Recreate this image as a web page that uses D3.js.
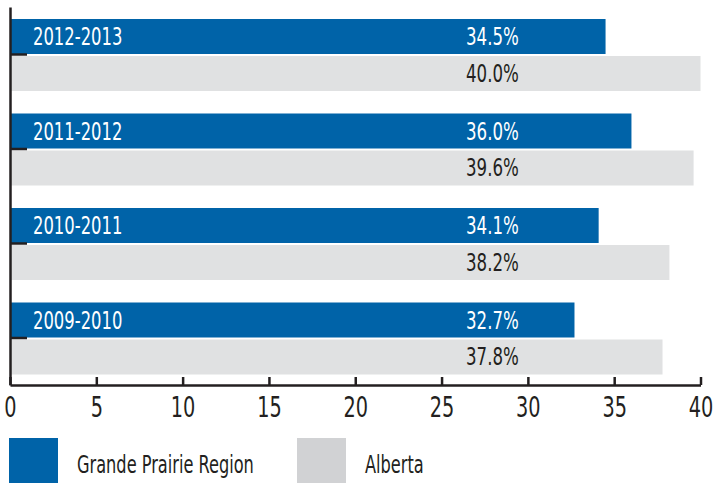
<!DOCTYPE html>
<html lang="en">
<head>
<meta charset="utf-8">
<title>Grande Prairie Region vs Alberta</title>
<script src="https://cdn.jsdelivr.net/npm/d3@7"></script>
<style>
  body { margin: 0; background: #fff; }
  svg { display: block; font-family: "DejaVu Sans Condensed", "Liberation Sans Narrow", sans-serif; }
</style>
</head>
<body>
<script>
// data
var years = ["2012-2013", "2011-2012", "2010-2011", "2009-2010"];
var series = ["Grande Prairie Region", "Alberta"];
var gpRegion = [34.5, 36.0, 34.1, 32.7];
var alberta = [40.0, 39.6, 38.2, 37.8];
var xTicks = [0, 5, 10, 15, 20, 25, 30, 35, 40];

var w = 713, h = 483;
var colors = {"Grande Prairie Region": "#0063a8", "Alberta": "#e0e1e2"};
var legendColors = {"Grande Prairie Region": "#0063a8", "Alberta": "#d1d2d4"};
var dark = "#231f20";

var svg = d3.select("body").append("svg")
  .attr("width", w)
  .attr("height", h);

var x = d3.scaleLinear().domain([0, 40]).range([10, 700.5]);
var y = d3.scaleBand().domain(years).range([7, 385]);
var yInner = d3.scaleBand().domain(series).range([12, 84]).paddingInner(0.054);

var rows = [];
years.forEach(function(yr, i) {
  rows.push({year: yr, s: series[0], v: gpRegion[i]});
  rows.push({year: yr, s: series[1], v: alberta[i]});
});

svg.selectAll("rect.bar")
  .data(rows)
  .enter().append("rect")
  .attr("class", "bar")
  .attr("x", x(0))
  .attr("y", function(d) { return y(d.year) + yInner(d.s); })
  .attr("width", function(d) { return x(d.v) - x(0); })
  .attr("height", yInner.bandwidth())
  .attr("fill", function(d) { return colors[d.s]; });

// condensed look: squeeze text horizontally
function place(px, py, sx) {
  return "translate(" + px + "," + py + ") scale(" + sx + ",1)";
}

// value labels
svg.selectAll("text.val")
  .data(rows)
  .enter().append("text")
  .attr("class", "val")
  .attr("transform", function(d) {
    return place(466, y(d.year) + yInner(d.s) + yInner.bandwidth() / 2 + 8.5, 0.77);
  })
  .attr("font-size", 24)
  .attr("fill", function(d) { return d.s == series[0] ? "#fff" : dark; })
  .text(function(d) { return d.v.toFixed(1) + "%"; });

// year labels inside the blue bars
svg.selectAll("text.yr")
  .data(years)
  .enter().append("text")
  .attr("class", "yr")
  .attr("transform", function(d) {
    return place(33, y(d) + yInner(series[0]) + yInner.bandwidth() / 2 + 8.5, 0.76);
  })
  .attr("font-size", 24)
  .attr("fill", "#fff")
  .text(function(d) { return d; });

// axes
var xAxis = svg.append("g")
  .attr("transform", "translate(0," + 385 + ")")
  .call(d3.axisBottom(x).tickValues(xTicks).tickSizeInner(-8).tickSizeOuter(0));

var yAxis = svg.append("g")
  .attr("transform", "translate(" + 10 + ",0)")
  .call(d3.axisLeft(y).tickSizeInner(-17).tickSizeOuter(0).tickFormat(""));

[xAxis, yAxis].forEach(function(g) {
  g.select(".domain").attr("stroke", dark).attr("stroke-width", 2.5);
  g.selectAll(".tick line").attr("stroke", dark).attr("stroke-width", 2.5);
});
yAxis.selectAll(".tick line").attr("transform", "translate(0," + (yInner(series[1]) - y.bandwidth() / 2 - 1.5) + ")");
xAxis.selectAll(".tick text")
  .attr("y", 32)
  .attr("dy", 0)
  .attr("transform", "scale(0.74,1)")
  .attr("font-size", 29)
  .attr("fill", dark)
  .attr("font-family", "DejaVu Sans Condensed, sans-serif");

// legend
var legend = svg.selectAll("g.leg")
  .data(series)
  .enter().append("g")
  .attr("class", "leg")
  .attr("transform", function(d, i) { return "translate(" + [9, 297][i] + ",438)"; });

legend.append("rect")
  .attr("width", 49)
  .attr("height", 46)
  .attr("fill", function(d) { return legendColors[d]; });

legend.append("text")
  .attr("transform", place(68, 35, 0.75))
  .attr("font-size", 24)
  .attr("fill", dark)
  .text(function(d) { return d; });
</script>
</body>
</html>
